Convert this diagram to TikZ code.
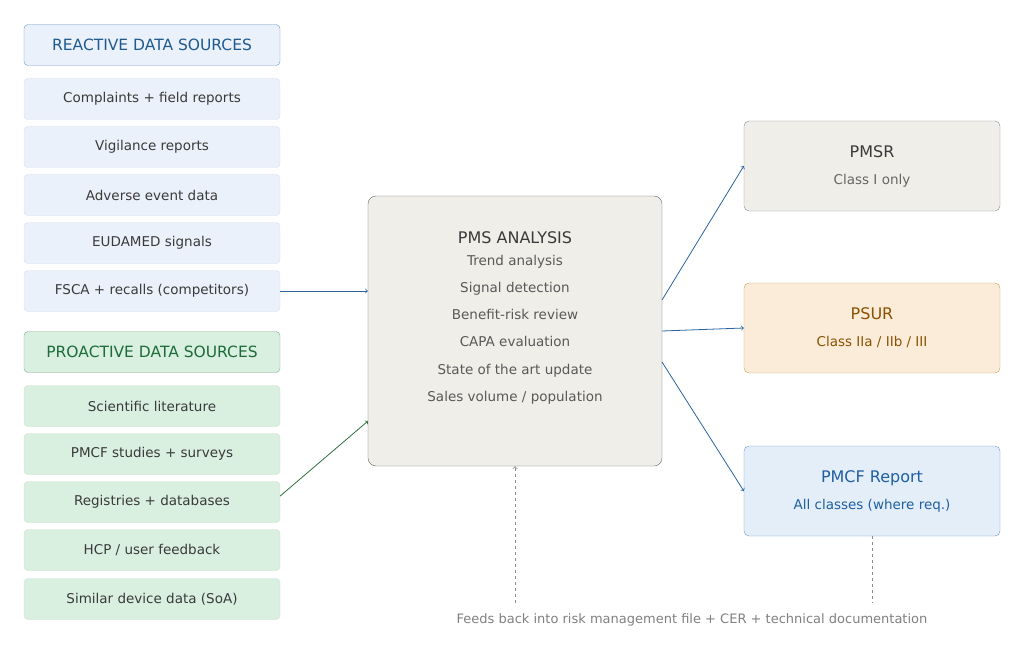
\documentclass[tikz,border=0pt]{standalone}
\usepackage{fontspec}
\setmainfont{DejaVu Sans}
\usetikzlibrary{positioning}
\definecolor{reactfill}{HTML}{EAF1FA}
\definecolor{reactdraw}{HTML}{D3DEEA}
\definecolor{reacthead}{HTML}{1F5A8F}
\definecolor{profill}{HTML}{D9F0E1}
\definecolor{prodraw}{HTML}{C9DFD0}
\definecolor{prohead}{HTML}{1E6B3A}
\definecolor{centerfill}{HTML}{EFEEE9}
\definecolor{txt}{HTML}{3A3A3A}
\definecolor{psurfill}{HTML}{FBECD9}
\definecolor{psurdraw}{HTML}{C89A5A}
\definecolor{psurtxt}{HTML}{8A5200}
\definecolor{pmcffill}{HTML}{E4EEF9}
\definecolor{pmcfdraw}{HTML}{6A97C4}
\definecolor{pmcftxt}{HTML}{1F5FA0}
\definecolor{arrblue}{HTML}{2A63A0}
\definecolor{arrgreen}{HTML}{2E7040}
\begin{document}
\begin{tikzpicture}[x=1pt,y=-1pt,
item/.style={
% source boxes:
rectangle,rounded corners=4pt,minimum width=256pt,minimum height=41pt,
font=\fontsize{13.5}{16}\selectfont,text=txt
},
react/.style={item,fill=reactfill,draw=reactdraw},
pro/.style={item,fill=profill,draw=prodraw},
head/.style={item,font=\fontsize{15.5}{18}\selectfont},
report/.style={rectangle,rounded corners=5pt,minimum width=256pt,minimum height=90pt,
align=center,font=\fontsize{13.5}{27}\selectfont},
flow/.style={->,thick,draw=arrblue}
]
\useasboundingbox (0,0) rectangle (1024,663);
% Reactive sources:
\node (rhead) [head,fill=reactfill,draw=pmcfdraw,text=reacthead] at (152,45) {REACTIVE DATA SOURCES};
\node (complaints) [react] at (152,99) {Complaints + field reports};
\node (vigilance) [react] at (152,147) {Vigilance reports};
\node (adverse) [react] at (152,195) {Adverse event data};
\node (eudamed) [react] at (152,243) {EUDAMED signals};
\node (fsca) [react] at (152,291) {FSCA + recalls (competitors)};
% Proactive sources:
\node (phead) [head,fill=profill,draw=arrgreen!60,text=prohead] at (152,352) {PROACTIVE DATA SOURCES};
\node (literature) [pro] at (152,406) {Scientific literature};
\node (pmcfstudy) [pro] at (152,454) {PMCF studies + surveys};
\node (registries) [pro] at (152,502) {Registries + databases};
\node (hcp) [pro] at (152,550) {HCP / user feedback};
\node (similar) [pro] at (152,599) {Similar device data (SoA)};
% Analysis:
\node (pms) [rectangle,rounded corners=8pt,minimum width=294pt,minimum height=270pt,
fill=centerfill,draw=black!60] at (515,331) {};
\node (pmstitle) [font=\fontsize{16}{19}\selectfont,text=txt] at (515,238) {PMS ANALYSIS};
\node (pmslist) [below=4pt of pmstitle,align=center,text=black!65,
font=\fontsize{13.5}{27.2}\selectfont] {Trend analysis\\Signal detection\\Benefit-risk review\\CAPA evaluation\\State of the art update\\Sales volume / population};
% Outputs:
\node (pmsr) [report,fill=centerfill,draw=black!45,text=txt] at (872,166)
{{\fontsize{16}{19}\selectfont PMSR}\\{\color{black!60}Class I only}};
\node (psur) [report,fill=psurfill,draw=psurdraw,text=psurtxt] at (872,328)
{{\fontsize{16}{19}\selectfont PSUR}\\Class IIa / IIb / III};
\node (pmcf) [report,fill=pmcffill,draw=pmcfdraw,text=pmcftxt] at (872,491)
{{\fontsize{16}{19}\selectfont PMCF Report}\\All classes (where req.)};
\node (feedback) [text=black!50,font=\fontsize{13}{16}\selectfont] at (692,620)
{Feeds back into risk management file + CER + technical documentation};
\coordinate (fb1) at (515,603);
\coordinate (fb2) at (872,603);
\draw[flow] (fsca.east) -- (pms.west |- fsca.east);
\draw[->,thick,draw=arrgreen] (registries.east) ++(0,-6) -- (368,421);
\draw[flow] (662,300) -- (pmsr.west);
\draw[flow] (662,331) -- (psur.west);
\draw[flow] (662,362) -- (pmcf.west);
\draw[->,thick,dashed,draw=black!45] (fb1) -- (pms.south);
\draw[thick,dashed,draw=black!45] (pmcf.south) -- (fb2);
\end{tikzpicture}
\end{document}
